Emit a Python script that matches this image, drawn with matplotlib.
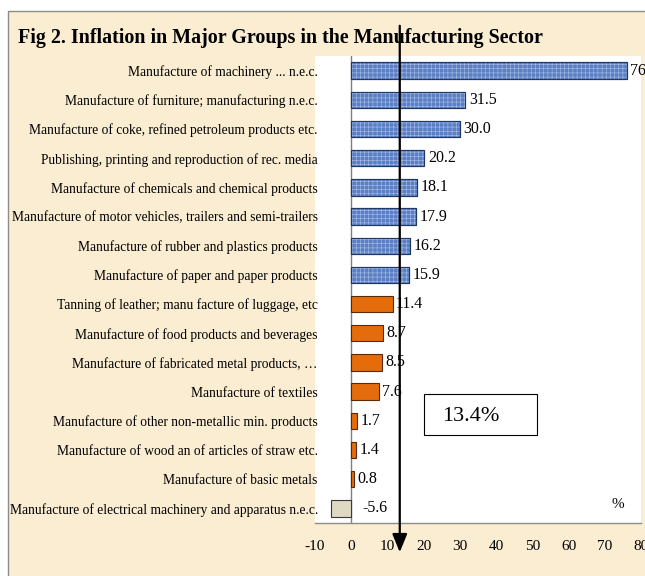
import numpy as np
import matplotlib
matplotlib.use('Agg')
import matplotlib.pyplot as plt
from matplotlib.patches import Rectangle

plt.rcParams['font.family'] = ['Liberation Serif', 'DejaVu Serif']

# data, top to bottom as in the figure
labels = [
    "Manufacture of machinery ... n.e.c.",
    "Manufacture of furniture; manufacturing n.e.c.",
    "Manufacture of coke, refined petroleum products etc.",
    "Publishing, printing and reproduction of rec. media",
    "Manufacture of chemicals and chemical products",
    "Manufacture of motor vehicles, trailers and semi-trailers",
    "Manufacture of rubber and plastics products",
    "Manufacture of paper and paper products",
    "Tanning of leather; manu facture of luggage, etc",
    "Manufacture of food products and beverages",
    "Manufacture of fabricated metal products, \u2026",
    "Manufacture of textiles",
    "Manufacture of other non-metallic min. products",
    "Manufacture of wood an of articles of straw etc.",
    "Manufacture of basic metals",
    "Manufacture of electrical machinery and apparatus n.e.c.",
]
values = [76.0, 31.5, 30.0, 20.2, 18.1, 17.9, 16.2, 15.9,
          11.4, 8.7, 8.5, 7.6, 1.7, 1.4, 0.8, -5.6]
groups = ['high'] * 8 + ['mid'] * 7 + ['neg']
average = 13.4
xticks = [-10, 0, 10, 20, 30, 40, 50, 60, 70, 80]

face = {'high': '#5b7fc4', 'mid': '#e46c0a', 'neg': '#ddd9c3'}
edge = {'high': '#1f3864', 'mid': '#5a2a05', 'neg': '#3a3a3a'}

bg = '#fbedd2'
fig = plt.figure(figsize=(6.45, 5.76), dpi=100)
fig.patch.set_facecolor('white')
# parchment panel
fig.patches.append(Rectangle((8/645, -0.01), 1, 1.01 - 11/576, transform=fig.transFigure,
                             facecolor=bg, edgecolor='#8c8c8c', lw=1.0, zorder=-10))

ax = fig.add_axes([315/645, 53/576, 326/645, 467/576])
ax.set_facecolor('white')

y = np.arange(len(values))
cols = [face[g] for g in groups]
ecols = [edge[g] for g in groups]
ax.barh(y, values, height=0.56, color=cols, edgecolor=ecols, linewidth=0.8, zorder=2)
# speckled texture on the blue bars
hi = [i for i, g in enumerate(groups) if g == 'high']
plt.rcParams['hatch.linewidth'] = 0.4
ax.barh(y[hi], [values[i] for i in hi], height=0.56, facecolor='none',
        edgecolor='#a9bfe8', hatch='++++', linewidth=0, zorder=3)
ax.barh(y[hi], [values[i] for i in hi], height=0.56, facecolor='none',
        edgecolor=edge['high'], linewidth=0.8, zorder=4)

for yi, v in zip(y, values):
    ax.text(max(v, 0) + (1.0 if v >= 0 else 3.0), yi, f"{v:.1f}", va='center', ha='left',
            fontsize=11.5, color='black', clip_on=False, zorder=5)

ax.axvline(0, color='#7f7f7f', lw=1.0, zorder=1)
ax.set_xlim(-10, 80)
ax.set_ylim(len(values) - 0.5, -0.5)
ax.set_yticks(y)
ax.set_yticklabels(labels, fontsize=9.75)
ax.set_xticks(xticks)
ax.set_xticklabels([str(t) for t in xticks], fontsize=11)
ax.tick_params(axis='y', length=0, pad=-2)
ax.tick_params(axis='x', length=0, pad=12)
for s in ['top', 'right', 'left']:
    ax.spines[s].set_visible(False)
ax.spines['bottom'].set_color('#8c8c8c')
ax.spines['bottom'].set_linewidth(1.0)

# average arrow
ax.annotate('', xy=(average, 21/576), xycoords=('data', 'figure fraction'),
            xytext=(average, 1 - 23/576), textcoords=('data', 'figure fraction'),
            arrowprops=dict(arrowstyle='-|>,head_length=1.1,head_width=0.45',
                        color='black', lw=1.6), zorder=6)

ax.add_patch(Rectangle((0.334, 0.188), 0.347, 0.088, transform=ax.transAxes,
                       facecolor='white', edgecolor='black', lw=0.8, zorder=7))
ax.text(0.479, 0.228, f"{average}%", transform=ax.transAxes, fontsize=16,
        va='center', ha='center', zorder=8)
ax.text(0.93, 0.04, '%', transform=ax.transAxes, fontsize=11, ha='center', va='center')

fig.text(18/645, 1 - 38/576, "Fig 2. Inflation in Major Groups in the Manufacturing Sector",
         fontsize=14.4, fontweight='bold', va='center', ha='left')

fig.savefig('out.png', dpi=100, facecolor=fig.get_facecolor())
